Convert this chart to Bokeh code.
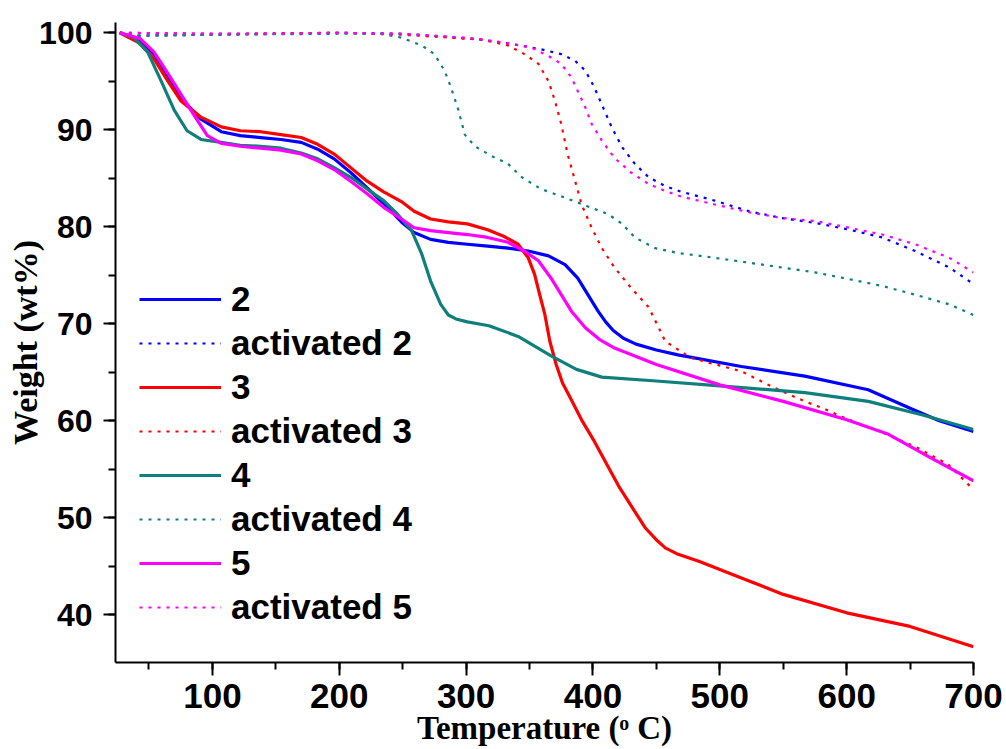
from bokeh.plotting import figure
from bokeh.models import Range1d, SingleIntervalTicker, Legend, LegendItem
from bokeh.embed import file_html
from bokeh.resources import INLINE

# ---- data (Temperature in deg C, weight %) ----
t2 = [27, 43, 54, 64, 75, 91, 107, 122, 138, 154, 170, 183, 196, 209, 222, 235, 249, 259, 272, 286, 301, 317, 333, 349, 365, 378, 388, 396, 404, 410, 416, 424, 434, 450, 467, 517, 567, 617, 650, 673, 700]
w2 = [100, 99.2, 97.8, 95.6, 93.3, 91.1, 89.8, 89.4, 89.2, 89.0, 88.7, 88.0, 87.0, 85.6, 84.0, 82.4, 80.5, 79.4, 78.7, 78.4, 78.2, 78.0, 77.8, 77.5, 77.0, 76.1, 74.7, 73.0, 71.3, 70.2, 69.3, 68.5, 67.9, 67.3, 66.8, 65.6, 64.6, 63.2, 61.3, 60.0, 58.9]

t2a = [27, 40, 100, 150, 200, 250, 272, 312, 338, 359, 375, 386, 394, 401, 407, 415, 423, 433, 444, 457, 470, 496, 523, 549, 575, 602, 628, 654, 681, 700]
w2a = [100, 99.7, 99.8, 99.9, 100, 99.9, 99.7, 99.3, 98.8, 98.3, 97.8, 97.1, 96.1, 94.4, 92.6, 90.2, 88.2, 86.5, 85.1, 84.2, 83.6, 82.7, 81.6, 80.9, 80.4, 79.7, 78.9, 77.5, 75.8, 74.1]

t3 = [27, 43, 54, 64, 75, 91, 107, 122, 138, 154, 170, 183, 196, 209, 222, 235, 249, 259, 272, 286, 301, 317, 330, 341, 349, 354, 358, 362, 366, 371, 376, 382, 391, 401, 421, 441, 451, 457, 466, 484, 517, 550, 600, 650, 700]
w3 = [100, 98.9, 97.3, 95.2, 93.0, 91.3, 90.3, 89.9, 89.8, 89.5, 89.2, 88.5, 87.5, 86.1, 84.7, 83.6, 82.6, 81.6, 80.8, 80.5, 80.3, 79.7, 79.0, 78.2, 76.8, 75.1, 73.0, 71.0, 68.2, 65.8, 63.9, 62.4, 60.1, 57.9, 53.1, 49.0, 47.6, 46.9, 46.3, 45.5, 43.8, 42.1, 40.2, 38.8, 36.7]

t3a = [27, 100, 200, 250, 312, 333, 346, 357, 365, 370, 375, 380, 386, 391, 399, 407, 417, 430, 444, 457, 477, 517, 543, 567, 583, 600, 630, 656, 680, 700]
w3a = [100, 99.9, 100, 99.8, 99.3, 98.7, 97.8, 96.8, 95.0, 93.0, 90.6, 87.5, 84.7, 82.3, 79.9, 77.8, 75.8, 73.7, 71.7, 68.2, 66.5, 65.1, 63.4, 62.0, 61.2, 60.2, 58.7, 57.2, 55.5, 52.9]

t4 = [27, 38, 49, 59, 70, 80, 91, 107, 122, 138, 154, 170, 183, 196, 209, 222, 235, 246, 257, 265, 272, 280, 286, 292, 301, 318, 341, 367, 387, 407, 450, 500, 567, 617, 660, 700]
w4 = [100, 99.5, 98.0, 95.2, 92.0, 89.9, 89.0, 88.7, 88.4, 88.3, 88.1, 87.6, 87.0, 86.1, 85.1, 83.9, 82.7, 81.3, 79.6, 77.2, 74.4, 72.0, 70.9, 70.5, 70.2, 69.8, 68.7, 66.7, 65.3, 64.5, 64.1, 63.6, 62.9, 62.0, 60.6, 59.1]

t4a = [27, 40, 100, 200, 233, 249, 265, 275, 283, 288, 294, 299, 307, 320, 333, 344, 359, 378, 396, 412, 423, 433, 449, 467, 496, 523, 549, 575, 602, 628, 654, 681, 700]
w4a = [100, 99.7, 99.8, 99.9, 99.9, 99.5, 98.7, 97.8, 96.1, 94.4, 92.0, 89.5, 88.3, 87.3, 86.5, 85.1, 83.9, 83.0, 82.1, 81.3, 80.3, 78.9, 77.8, 77.3, 76.8, 76.3, 75.8, 75.3, 74.6, 73.9, 73.0, 72.0, 70.9]

t5 = [27, 43, 54, 64, 75, 86, 96, 107, 122, 138, 154, 170, 183, 196, 209, 222, 235, 249, 259, 272, 286, 301, 317, 333, 346, 357, 367, 375, 383, 394, 405, 417, 450, 500, 550, 600, 633, 666, 700]
w5 = [100, 99.4, 98.0, 96.0, 93.7, 91.4, 89.4, 88.6, 88.3, 88.1, 87.9, 87.5, 86.8, 85.9, 84.7, 83.4, 82.0, 80.8, 79.9, 79.6, 79.4, 79.2, 78.9, 78.4, 77.5, 76.5, 74.7, 73.0, 71.3, 69.6, 68.4, 67.5, 65.8, 63.7, 62.0, 60.1, 58.6, 56.2, 53.8]

t5a = [27, 100, 150, 200, 250, 300, 330, 351, 365, 375, 383, 388, 394, 399, 407, 417, 430, 444, 457, 470, 496, 523, 549, 575, 602, 628, 654, 681, 700]
w5a = [100, 99.9, 99.9, 100, 99.9, 99.5, 99.0, 98.5, 97.6, 96.8, 95.4, 94.0, 92.3, 90.6, 88.9, 87.1, 85.6, 84.4, 83.7, 83.1, 82.3, 81.5, 80.9, 80.6, 79.9, 79.2, 78.2, 76.8, 75.3]

labels = ["2", "activated 2", "3", "activated 3", "4", "activated 4", "5", "activated 5"]
colors = ["#0000FF", "#0000FF", "#FF0000", "#FF0000", "#0E7F7A", "#0E7F7A", "#FF00FF", "#FF00FF"]

series = [(t2, w2), (t2a, w2a), (t3, w3), (t3a, w3a), (t4, w4), (t4a, w4a), (t5, w5), (t5a, w5a)]

p = figure(width=1004, height=748, output_backend="svg", toolbar_location=None,
           x_range=Range1d(23.6, 700), y_range=Range1d(35.08, 101.06),
           min_border_left=115, min_border_right=31, min_border_top=22, min_border_bottom=86)
p.xgrid.visible = False
p.ygrid.visible = False
p.outline_line_color = None
p.background_fill_color = "white"

items = []
for i, ((tx, wy), lab, col) in enumerate(zip(series, labels, colors)):
    dotted = (i % 2 == 1)
    if dotted:
        r = p.line(tx, wy, line_color=col, line_width=2.2, line_dash="3 6")
    else:
        r = p.line(tx, wy, line_color=col, line_width=3.2, line_join="round")
    items.append(LegendItem(label=lab, renderers=[r]))

legend = Legend(items=items, location=(24, 35))
legend.label_text_font = "Liberation Sans"
legend.label_text_font_style = "bold"
legend.label_text_font_size = "35px"
legend.label_text_color = "black"
legend.glyph_width = 82
legend.glyph_height = 30
legend.label_height = 30
legend.spacing = 4
legend.padding = 0
legend.margin = 0
legend.label_standoff = 10
legend.border_line_color = None
legend.background_fill_alpha = 0
p.add_layout(legend, "center")

# x axis
xa = p.xaxis[0]
xa.ticker = SingleIntervalTicker(interval=100, num_minor_ticks=2)
xa.axis_label = "Temperature (\u1d52 C)"
xa.axis_label_text_font = "Liberation Serif"
xa.axis_label_text_font_style = "bold"
xa.axis_label_text_font_size = "33px"
xa.axis_label_standoff = -1
xa.major_label_text_font = "Liberation Sans"
xa.major_label_text_font_style = "bold"
xa.major_label_text_font_size = "35px"
xa.major_label_text_color = "black"
xa.major_label_standoff = 8
xa.major_tick_in = 0
xa.major_tick_out = 13
xa.minor_tick_in = 0
xa.minor_tick_out = 7

# y axis
ya = p.yaxis[0]
ya.ticker = SingleIntervalTicker(interval=10, num_minor_ticks=2)
ya.axis_label = "Weight (wt%)"
ya.axis_label_text_font = "Liberation Serif"
ya.axis_label_text_font_style = "bold"
ya.axis_label_text_font_size = "34px"
ya.axis_label_standoff = -8
ya.major_label_text_font = "Liberation Sans"
ya.major_label_text_font_style = "bold"
ya.major_label_text_font_size = "32px"
ya.major_label_text_color = "black"
ya.major_label_standoff = 11
ya.major_tick_in = 0
ya.major_tick_out = 12
ya.minor_tick_in = 0
ya.minor_tick_out = 7

for ax in (xa, ya):
    ax.axis_line_width = 2
    ax.axis_line_color = "black"
    ax.major_tick_line_width = 2
    ax.minor_tick_line_width = 2
    ax.major_tick_line_color = "black"
    ax.minor_tick_line_color = "black"
    ax.axis_label_text_color = "black"

open("out.html", "w").write(file_html(p, INLINE))
